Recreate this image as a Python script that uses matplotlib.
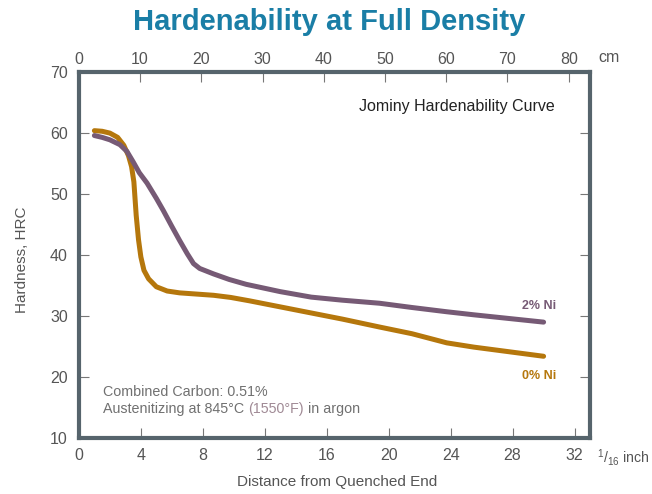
import matplotlib.pyplot as plt

# distance from quenched end, 1/16 inch ; hardness HRC
x_ni0 = [1.0, 1.5, 2.0, 2.5, 2.9, 3.2, 3.4, 3.55, 3.7, 3.85, 4.0, 4.2, 4.5, 5.0, 5.7, 6.5, 7.6,
         8.7, 9.8, 11.0, 13.0, 15.0, 17.0, 19.4, 21.5, 23.75, 25.5, 27.0, 28.5, 30.0]
hrc_ni0 = [60.4, 60.3, 60.0, 59.3, 58.0, 56.3, 54.5, 52.0, 46.5, 42.5, 39.7, 37.5, 36.1, 34.8, 34.1,
           33.8, 33.6, 33.4, 33.05, 32.5, 31.5, 30.5, 29.5, 28.2, 27.1, 25.6, 24.9, 24.4, 23.9, 23.4]

x_ni2 = [1.0, 1.5, 2.0, 2.65, 3.1, 3.5, 3.9, 4.4, 5.0, 5.45, 6.0, 6.5, 7.0, 7.4, 7.8, 8.7, 9.7,
         10.8, 13.0, 15.0, 17.0, 19.4, 21.5, 23.75, 25.5, 27.0, 28.5, 30.0]
hrc_ni2 = [59.6, 59.3, 58.9, 58.1, 57.0, 55.3, 53.5, 51.8, 49.3, 47.3, 44.7, 42.4, 40.2, 38.6, 37.8,
           36.9, 36.0, 35.2, 34.0, 33.1, 32.6, 32.1, 31.4, 30.7, 30.2, 29.8, 29.4, 29.0]

bottom_ticks = [0, 4, 8, 12, 16, 20, 24, 28, 32]
top_ticks = [0, 10, 20, 30, 40, 50, 60, 70, 80]
y_ticks = [10, 20, 30, 40, 50, 60, 70]
cm_per_unit = 2.53

plt.rcParams['font.family'] = ['Liberation Sans', 'DejaVu Sans']
plt.rcParams['mathtext.fontset'] = 'custom'
plt.rcParams['mathtext.rm'] = 'Liberation Sans'
frame_col = '#56646c'
tick_col = '#555555'
note_col = '#707070'
orange = '#b5770c'
purple = '#765a75'

fig = plt.figure(figsize=(6.52, 4.94), dpi=100)
ax = fig.add_axes([0.121, 0.1134, 0.784, 0.7406])

ax.plot(x_ni0, hrc_ni0, color=orange, lw=3.6, solid_capstyle='round', solid_joinstyle='round')
ax.plot(x_ni2, hrc_ni2, color=purple, lw=3.6, solid_capstyle='round', solid_joinstyle='round')

ax.set_xlim(0, 33)
ax.set_ylim(10, 70)
ax.set_xticks(bottom_ticks)
ax.set_yticks(y_ticks)
for s in ax.spines.values():
    s.set_linewidth(3)
    s.set_color(frame_col)
ax.tick_params(direction='in', length=7, width=0.8, color='#777777',
               labelsize=11.5, labelcolor=tick_col, right=True)
ax.tick_params(axis='x', pad=7.5)
ax.tick_params(axis='y', pad=8)

top = ax.secondary_xaxis('top', functions=(lambda x: x * cm_per_unit, lambda c: c / cm_per_unit))
top.set_xticks(top_ticks)
top.spines['top'].set_visible(False)
top.tick_params(direction='in', length=7, width=0.8, color='#777777',
                labelsize=11.5, labelcolor=tick_col, pad=4)

fig.text(337 / 652, 1 - 482 / 494, 'Distance from Quenched End', ha='center', va='center',
         fontsize=11, color=tick_col)
fig.text(22 / 652, 1 - 260 / 494, 'Hardness, HRC', ha='center', va='center', rotation=90,
         fontsize=11, color=tick_col)

fig.text(329 / 652, 1 - 30 / 494, 'Hardenability at Full Density', ha='center', va='baseline',
         fontsize=21, fontweight='bold', color='#1a7ea6')
fig.text(598 / 652, 1 - 57 / 494, 'cm', ha='left', va='center', fontsize=11.5, color=tick_col)
fig.text(597 / 652, 1 - 457 / 494, r'$\mathregular{^1/_{16}}$ inch', ha='left', va='center',
         fontsize=10.2, color=tick_col)

ax.text(0.93, 0.905, 'Jominy Hardenability Curve', transform=ax.transAxes, ha='right',
        va='center', fontsize=11.5, color='#222222')
ax.text(29.7, 31.7, '2% Ni', ha='center', va='center', fontsize=9, fontweight='bold', color=purple)
ax.text(29.7, 20.2, '0% Ni', ha='center', va='center', fontsize=9, fontweight='bold', color=orange)

ax.text(1.55, 17.5, 'Combined Carbon: 0.51%', fontsize=10.3, color=note_col, va='center')
t1 = ax.text(1.55, 14.75, 'Austenitizing at 845°C', fontsize=10.3, color=note_col, va='center')
t2 = ax.annotate('(1550°F)', xy=(1, 0), xycoords=t1, xytext=(2.9, 0), textcoords='offset points',
                 va='bottom', fontsize=10.3, color='#a08a95')
ax.annotate('in argon', xy=(1, 0), xycoords=t2, xytext=(2.9, 0), textcoords='offset points',
            va='bottom', fontsize=10.3, color=note_col)

fig.savefig('out.png', dpi=100)
